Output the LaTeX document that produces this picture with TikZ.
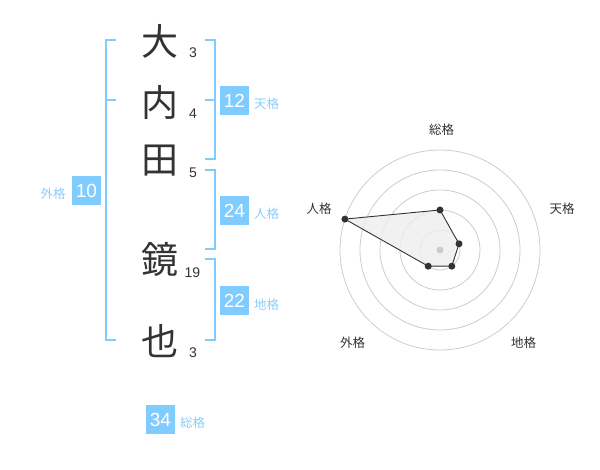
\documentclass[tikz,border=0pt]{standalone}
\usepackage{fontspec}
\setmainfont{Liberation Sans}
\newfontfamily\cjk{Noto Sans CJK JP}
\definecolor{bluebox}{HTML}{80CCFF}
\definecolor{bluetext}{HTML}{88CFFA}
\definecolor{darktext}{HTML}{333333}
\definecolor{ringgray}{HTML}{CCCCCC}
\definecolor{fillgray}{HTML}{EEEEEE}
\begin{document}
\begin{tikzpicture}[x=1pt,y=-1pt,
  kanji/.style={inner sep=0pt,font=\cjk\fontsize{37}{37}\selectfont,text=darktext},
  strokes/.style={inner sep=0pt,font=\fontsize{14}{14}\selectfont,text=darktext},
  numbox/.style={fill=bluebox,text=white,minimum width=29pt,minimum height=29pt,inner sep=0pt,font=\fontsize{19}{19}\selectfont},
  kaku/.style={inner sep=0pt,font=\cjk\fontsize{12.5}{12.5}\selectfont,text=bluetext},
  bracket/.style={draw=bluebox,line width=2pt},
  ring/.style={draw=ringgray,line width=0.8pt},
  radarlabel/.style={inner sep=0pt,font=\cjk\fontsize{12.5}{12.5}\selectfont,text=darktext},
  vdot/.style={circle,fill=darktext,inner sep=0pt,minimum size=7pt}]
\useasboundingbox (0,0) rectangle (600,470);
% characters
\node[kanji] (k1) at (160,41) {大};
\node[kanji] (k2) at (160,102) {内};
\node[kanji] (k3) at (160,161) {田};
\node[kanji] (k4) at (160,259) {鏡};
\node[kanji] (k5) at (160,341) {也};
% stroke counts
\node[strokes] (s1) at (193,52.5) {3};
\node[strokes] (s2) at (193,113.5) {4};
\node[strokes] (s3) at (193,173) {5};
\node[strokes] (s4) at (192.5,273) {19};
\node[strokes] (s5) at (193,353) {3};
% brackets
\draw[bracket] (116,40) -- (105.5,40) -- (105.5,340) -- (116,340);
\draw[bracket] (105.5,100) -- (116,100);
\draw[bracket] (205,40) -- (214.5,40) -- (214.5,159.5) -- (205,159.5);
\draw[bracket] (205,100) -- (214.5,100);
\draw[bracket] (205,170) -- (214.5,170) -- (214.5,249.5) -- (205,249.5);
\draw[bracket] (205,259.5) -- (214.5,259.5) -- (214.5,340) -- (205,340);
% boxes
\node[numbox] (b1) at (234.5,100.5) {12};
\node[kaku,anchor=west] (t1) at (254,104) {天格};
\node[numbox] (b2) at (234.5,210.5) {24};
\node[kaku,anchor=west] (t2) at (254,214) {人格};
\node[numbox] (b3) at (234.5,300.5) {22};
\node[kaku,anchor=west] (t3) at (254,305) {地格};
\node[numbox] (b4) at (86.5,190.5) {10};
\node[kaku] (t4) at (53,194) {外格};
\node[numbox] (b5) at (160.5,419.5) {34};
\node[kaku,anchor=west] (t5) at (180,422.5) {総格};
% radar
\coordinate (c) at (440,250);
\foreach \r in {20,40,60,80,100} \draw[ring] (c) circle[radius=\r];
\path (c) ++(0,-40) coordinate (p1)
      (c) ++(19.0,-6.2) coordinate (p2)
      (c) ++(11.8,16.2) coordinate (p3)
      (c) ++(-11.8,16.2) coordinate (p4)
      (c) ++(-95.1,-30.9) coordinate (p5);
\fill[fillgray,opacity=0.8] (p1) -- (p2) -- (p3) -- (p4) -- (p5) -- cycle;
\draw[darktext,line width=0.9pt] (p1) -- (p2) -- (p3) -- (p4) -- (p5) -- cycle;
\node[circle,fill=ringgray,inner sep=0pt,minimum size=7pt] (cd) at (c) {};
\foreach \p in {p1,p2,p3,p4,p5} \node[vdot] at (\p) {};
\node[radarlabel] (r1) at (441.5,130) {総格};
\node[radarlabel] (r2) at (562,209) {天格};
\node[radarlabel] (r3) at (319,209) {人格};
\node[radarlabel] (r4) at (352.5,342.5) {外格};
\node[radarlabel] (r5) at (523.5,342.5) {地格};
\end{tikzpicture}
\end{document}
